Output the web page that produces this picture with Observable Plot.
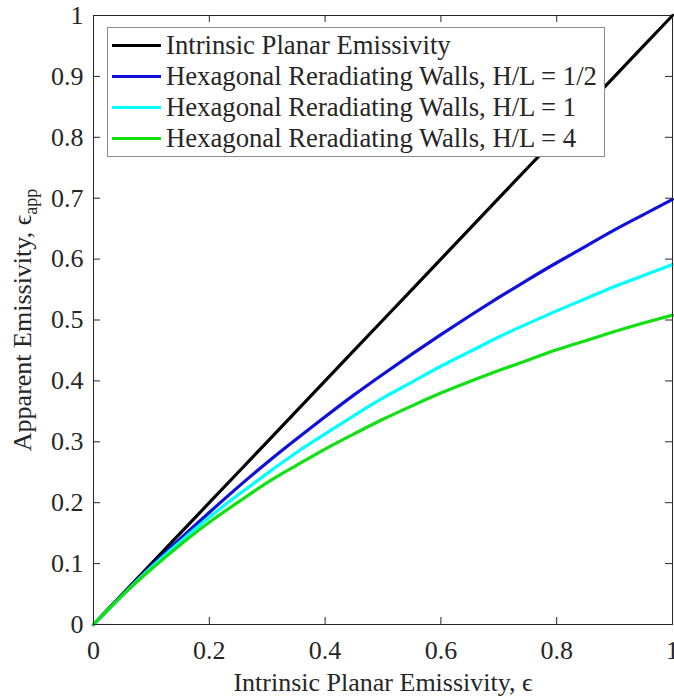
<!DOCTYPE html>
<html><head><meta charset="utf-8">
<script src="https://cdn.jsdelivr.net/npm/d3@7"></script>
<script src="https://cdn.jsdelivr.net/npm/@observablehq/plot@0.6"></script>
<style>
body{margin:0;background:#fff;}
#wrap{position:relative;width:674px;height:700px;font-family:"Liberation Serif","Times New Roman",serif;}
#legend{position:absolute;left:107px;top:27px;width:498px;height:130px;box-sizing:border-box;border:1px solid #8c8c8c;background:#fff;padding-top:2px;}
.row{display:flex;align-items:center;height:31px;font-size:26.7px;color:#262626;white-space:nowrap;}
.sw{width:49px;height:3px;margin-left:4px;margin-right:5px;flex:none;}
</style></head><body><div id="wrap"></div>
<script>
// ---- data ----
const eps       = [0,0.05,0.1,0.15,0.2,0.25,0.3,0.35,0.4,0.45,0.5,0.55,0.6,0.65,0.7,0.75,0.8,0.85,0.9,0.95,1];
const intrinsic = [0,0.05,0.1,0.15,0.2,0.25,0.3,0.35,0.4,0.45,0.5,0.55,0.6,0.65,0.7,0.75,0.8,0.85,0.9,0.95,1];
const hlHalf    = [0,0.049,0.096,0.141,0.184,0.226,0.266,0.304,0.341,0.377,0.411,0.444,0.476,0.507,0.537,0.566,0.594,0.621,0.648,0.673,0.698];
const hlOne     = [0,0.048,0.094,0.136,0.176,0.213,0.248,0.282,0.313,0.343,0.372,0.398,0.424,0.448,0.472,0.494,0.515,0.535,0.555,0.573,0.591];
const hlFour    = [0,0.048,0.091,0.131,0.168,0.201,0.233,0.261,0.288,0.313,0.337,0.359,0.380,0.399,0.417,0.434,0.451,0.466,0.481,0.495,0.508];

const seriesNames  = ["Intrinsic Planar Emissivity",
                      "Hexagonal Reradiating Walls, H/L = 1/2",
                      "Hexagonal Reradiating Walls, H/L = 1",
                      "Hexagonal Reradiating Walls, H/L = 4"];
const seriesColors = ["#000000", "#1010dd", "#00ffff", "#11e011"];
const seriesValues = [intrinsic, hlHalf, hlOne, hlFour];

const xTicks = [0,0.2,0.4,0.6,0.8,1];
const xTickLabels = ["0","0.2","0.4","0.6","0.8","1"];
const yTicks = [0,0.1,0.2,0.3,0.4,0.5,0.6,0.7,0.8,0.9,1];
const yTickLabels = ["0","0.1","0.2","0.3","0.4","0.5","0.6","0.7","0.8","0.9","1"];

const xTitle = "Intrinsic Planar Emissivity, \u03F5";
const yTitle = "Apparent Emissivity, \u03F5";
const ySub = "app";

// ---- build table ----
const rows = [];
seriesNames.forEach((name, s) => {
  eps.forEach((e, i) => rows.push({series: name, e, v: seriesValues[s][i]}));
});

const W = 674, H = 700, mL = 93, mR = 2, mT = 15, mB = 76;
const iw = W - mL - mR, ih = H - mT - mB;
const axisColor = "#262626";
const font = '"Liberation Serif","Times New Roman",serif';

const chart = Plot.plot({
  width: W, height: H,
  marginLeft: mL, marginRight: mR, marginTop: mT, marginBottom: mB,
  style: {fontFamily: font, fontSize: "26px", color: axisColor, background: "white", overflow: "visible"},
  x: {domain: [0, 1]},
  y: {domain: [0, 1]},
  color: {domain: seriesNames, range: seriesColors},
  marks: [
    Plot.line(rows, {x: "e", y: "v", z: "series", stroke: "series", strokeWidth: 3.2, curve: "natural"}),
    Plot.frame({stroke: axisColor, strokeWidth: 1}),
    Plot.tickX(xTicks, {x: d => d, insetTop: ih - 7, stroke: axisColor}),
    Plot.tickX(xTicks, {x: d => d, insetBottom: ih - 7, stroke: axisColor}),
    Plot.tickY(yTicks, {y: d => d, insetRight: iw - 7, stroke: axisColor}),
    Plot.tickY(yTicks, {y: d => d, insetLeft: iw - 7, stroke: axisColor}),
    Plot.axisX(xTicks, {tickSize: 0, tickPadding: 16, label: null, fill: axisColor,
      tickFormat: d => xTickLabels[xTicks.indexOf(d)]}),
    Plot.axisY(yTicks, {tickSize: 0, tickPadding: 10, label: null, fill: axisColor,
      tickFormat: d => yTickLabels[yTicks.indexOf(d)]}),
    Plot.text([xTitle], {text: d => d, frameAnchor: "bottom", dy: 58, lineAnchor: "middle", textAnchor: "middle", fill: axisColor, fontSize: 26}),
    Plot.text([yTitle], {text: d => d, frameAnchor: "left", dx: -71, rotate: -90, lineAnchor: "middle", textAnchor: "middle", fill: axisColor, fontSize: 26})
  ]
});

const wrap = document.getElementById("wrap");
wrap.appendChild(chart);

// subscript on y title
d3.select(chart).selectAll("text").filter(function() { return this.textContent === yTitle; }).each(function() {
  d3.select(this).append("tspan").attr("font-size", "18px").attr("dy", "0.35em").text(ySub);
});

// legend (inside the axes, as in the reference)
const legend = document.createElement("div");
legend.id = "legend";
seriesNames.forEach((name, i) => {
  const row = document.createElement("div");
  row.className = "row";
  const sw = document.createElement("span");
  sw.className = "sw";
  sw.style.background = seriesColors[i];
  const lab = document.createElement("span");
  lab.textContent = name;
  row.appendChild(sw); row.appendChild(lab);
  legend.appendChild(row);
});
wrap.appendChild(legend);
</script>
</body></html>
